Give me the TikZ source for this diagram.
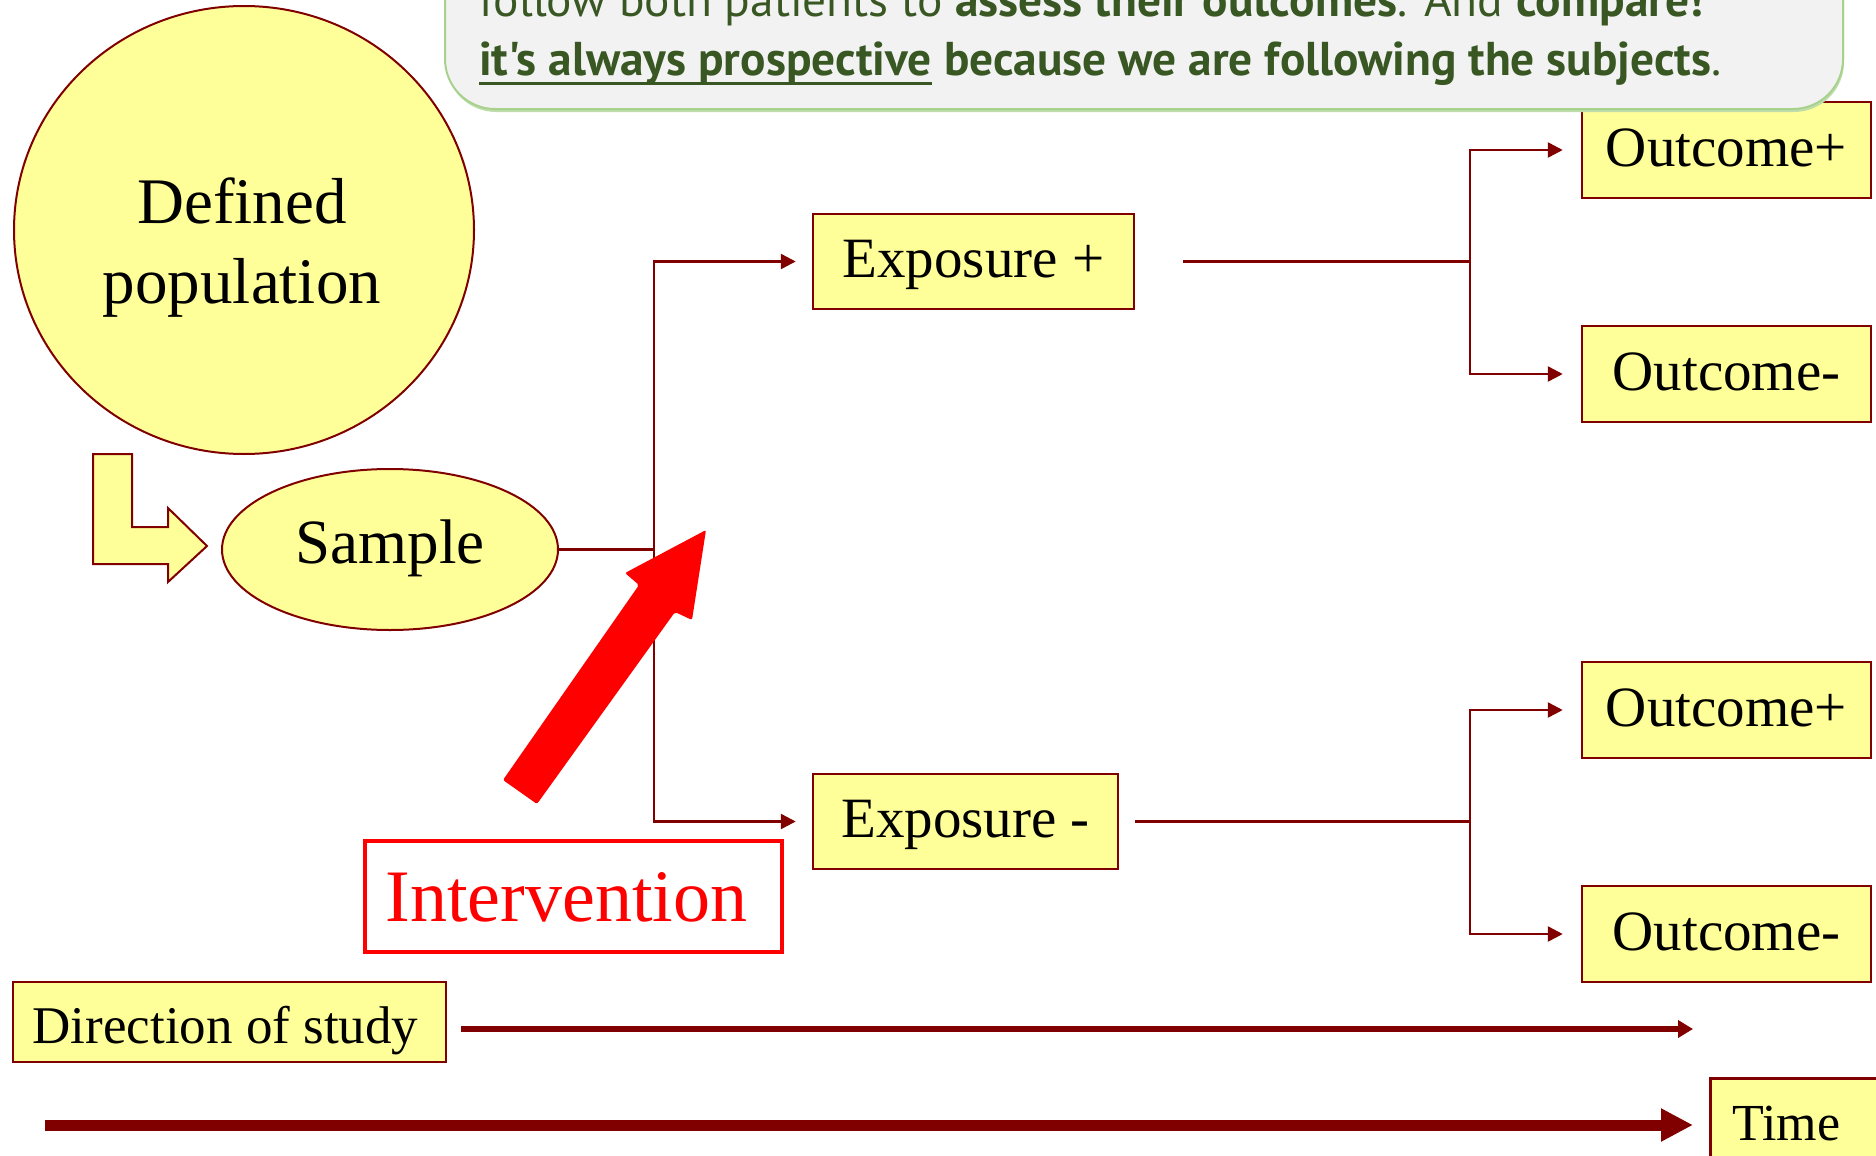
\documentclass[tikz,border=0pt]{standalone}
\usepackage{fontspec}
\setmainfont{Liberation Serif}
\newfontfamily\notefont{PT Sans}
\usetikzlibrary{arrows.meta,shapes.geometric}

\definecolor{darkred}{HTML}{800000}
\definecolor{paleyellow}{HTML}{FFFF99}
\definecolor{notegreen}{HTML}{385723}
\definecolor{noteedge}{HTML}{A9D18E}
\definecolor{notefill}{HTML}{F2F2F2}

\tikzset{
  yellowbox/.style={draw=darkred, fill=paleyellow, line width=2.5pt, inner sep=0pt},
  labelbox/.style={yellowbox, rectangle},
  oval/.style={yellowbox, ellipse, line width=2pt},
  link/.style={draw=darkred, line width=2.5pt},
  linkarrow/.style={link, -{Triangle[length=15pt,width=15pt]}},
  expfont/.style={font=\fontsize{57}{68}\selectfont, text height=41pt, text depth=10pt},
  outfont/.style={font=\fontsize{57}{68}\selectfont, text height=41pt, text depth=9pt},
  notetext/.style={anchor=base west, inner sep=0pt, text=notegreen,
    font=\notefont\fontsize{47.4}{58}\selectfont},
}

\begin{document}
\begin{tikzpicture}[x=1pt,y=-1pt]
\useasboundingbox (0,0) rectangle (1876,1156);
\clip (0,0) rectangle (1876,1156);

% population and sample
\node[oval, minimum width=460pt, minimum height=448pt] (pop) at (244,230) {};
\node[inner sep=0pt, align=center, font=\fontsize{65}{80}\selectfont] (poptext) at (242,248) {Defined\\population};

\draw[draw=darkred, fill=paleyellow, line width=2pt, line join=miter]
  (93,454) -- (132,454) -- (132,527) -- (168,527) -- (168,508) -- (207,546)
  -- (168,582) -- (168,564) -- (93,564) -- cycle;

\node[oval, minimum width=336pt, minimum height=161pt,
      font=\fontsize{63}{75}\selectfont, text height=42.8pt, text depth=13.9pt]
      (sample) at (390,549.5) {Sample};

% exposure groups
\node[labelbox, expfont, minimum width=321pt, minimum height=95pt] (expP) at (973.5,261.5) {Exposure +};
\node[labelbox, expfont, minimum width=305pt, minimum height=95pt] (expM) at (965.5,821.5) {Exposure -};

% outcomes
\node[labelbox, outfont, minimum width=289pt, minimum height=96pt] (outPP) at (1726.5,150) {Outcome+};
\node[labelbox, outfont, minimum width=289pt, minimum height=96pt] (outPM) at (1726.5,374) {Outcome-};
\node[labelbox, outfont, minimum width=289pt, minimum height=96pt] (outMP) at (1726.5,710) {Outcome+};
\node[labelbox, outfont, minimum width=289pt, minimum height=96pt] (outMM) at (1726.5,934) {Outcome-};

% sample splits into the two exposure groups
\coordinate (split) at (654,549.5);
\draw[link] (sample.east) -- (split);
\draw[linkarrow, shorten >=16pt] (split) |- (expP.west);
\draw[linkarrow, shorten >=16pt] (split) |- (expM.west);

% each exposure group is followed to its outcomes
\coordinate (forkP) at (1470,261.5);
\draw[link, shorten <=48pt] (expP.east) -- (forkP);
\draw[linkarrow, shorten >=18pt] (forkP) |- (outPP.west);
\draw[linkarrow, shorten >=18pt] (forkP) |- (outPM.west);

\coordinate (forkM) at (1470,821.5);
\draw[link, shorten <=16pt] (expM.east) -- (forkM);
\draw[linkarrow, shorten >=18pt] (forkM) |- (outMP.west);
\draw[linkarrow, shorten >=18pt] (forkM) |- (outMM.west);

% intervention
\fill[red, rounded corners=2pt] (503,780) -- (639,585) -- (625,573) -- (706,530)
  -- (692,620) -- (675,612) -- (537,804) -- cycle;
\node[draw=red, fill=white, line width=3.5pt, inner sep=0pt, text=red,
      minimum width=417pt, minimum height=111pt,
      font=\fontsize{74}{88}\selectfont, text height=55pt, text depth=6pt]
      (interv) at (573.5,896.5) {Intervention\kern14pt};

% direction of study and time axis
\node[labelbox, minimum width=433pt, minimum height=80pt,
      font=\fontsize{53}{64}\selectfont, text height=47pt, text depth=5pt]
      (dir) at (229.5,1022) {Direction of study\kern8pt};
\coordinate (dirFrom) at (461,1029);
\coordinate (dirTo) at (1693,1029);
\draw[draw=darkred, line width=6pt, -{Triangle[length=15pt,width=17pt]}] (dirFrom) -- (dirTo);

\node[labelbox, anchor=north west, inner xsep=22pt, inner ysep=25pt,
      text width=170pt, align=left,
      font=\fontsize{52}{62}\selectfont, text height=37pt, text depth=10pt]
      (time) at (1709,1077) {Time};
\coordinate (timeFrom) at (45,1125);
\coordinate (timeTo) at (1693,1125);
\draw[draw=darkred, line width=11pt, -{Triangle[length=32pt,width=31pt]}] (timeFrom) -- (timeTo);

% explanatory note at the top
\fill[noteedge!75, rounded corners=50pt] (446,-80) rectangle (1844,112);
\draw[draw=noteedge, line width=2pt, fill=notefill, rounded corners=50pt] (445,-80) rectangle (1843,109);
\node[notetext] (note1) at (479,17) {follow both patients to \textbf{assess their outcomes}. And \textbf{compare!}};
\node[notetext] (note2a) at (479,75) {\textbf{it's always prospective}};
\node[notetext, anchor=base west] (note2b) at (note2a.base east) {\textbf{\ because we are following the subjects}.};
\draw[notegreen, line width=3pt] ([yshift=-8pt]note2a.base west) -- ([yshift=-8pt]note2a.base east);
\end{tikzpicture}
\end{document}
